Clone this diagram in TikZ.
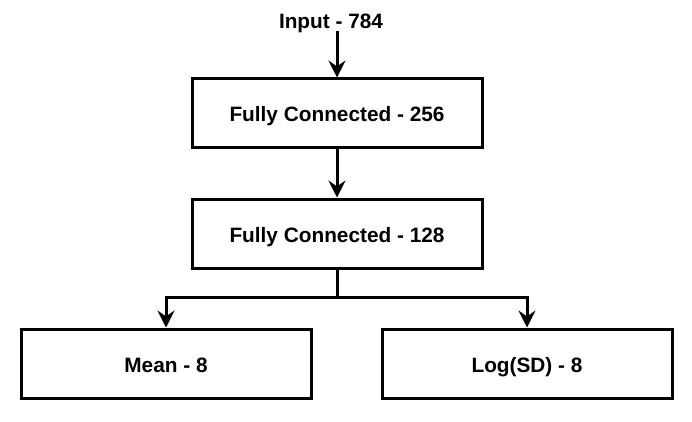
\documentclass[tikz,border=0pt]{standalone}
\usepackage{fontspec}
\setmainfont{Liberation Sans}
\usetikzlibrary{arrows.meta}
\begin{document}
\begin{tikzpicture}[x=1pt,y=-1pt,
  txt/.style={font=\fontsize{20.8}{24}\selectfont\bfseries, text height=17pt, text depth=-1pt},
  box/.style={txt, draw=black, line width=3pt, fill=white, minimum width=290pt, minimum height=69pt, inner sep=0pt},
  lbl/.style={txt, inner sep=2pt},
  conn/.style={line width=3pt, -{Stealth[length=17pt,width=17pt,inset=6pt]}},
  wire/.style={line width=3pt}]
\useasboundingbox[fill=white] (0,0) rectangle (692,422);
\node[lbl] (input) at (331,20) {Input - 784};
\node[box] (fc1) at (337,113.5) {Fully Connected - 256};
\node[box] (fc2) at (337,233.5) {Fully Connected - 128};
\node[box] (mean) at (166,363.5) {Mean - 8};
\node[box] (logsd) at (527,363.5) {Log(SD) - 8};
\coordinate (split) at (337,297);
\draw[conn] (input.south -| fc1.north) -- (fc1.north);
\draw[conn] (fc1.south) -- (fc2.north);
\draw[wire] (fc2.south) -- (split);
\draw[conn] (split) -| (mean.north);
\draw[conn] (split) -| (logsd.north);
\end{tikzpicture}
\end{document}
